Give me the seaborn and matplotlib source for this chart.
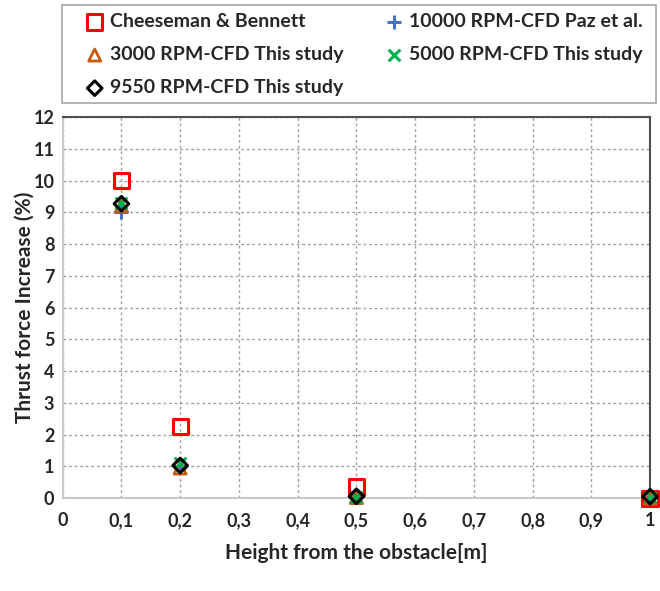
import matplotlib
matplotlib.use("Agg")
import matplotlib.pyplot as plt
from matplotlib.patches import Rectangle
import seaborn as sns

heights = [0.1, 0.2, 0.5, 1.0]
cheeseman = [10.0, 2.25, 0.35, 0.0]
paz_10000 = [9.0, 1.0, 0.05, 0.05]
rpm_3000 = [9.2, 0.95, 0.02, 0.0]
rpm_5000 = [9.3, 1.1, 0.05, 0.05]
rpm_9550 = [9.27, 1.03, 0.06, 0.05]

col1_labels = ["Cheeseman & Bennett", "3000 RPM-CFD This study", "9550 RPM-CFD This study"]
col2_labels = ["10000 RPM-CFD Paz et al.", "5000 RPM-CFD This study"]

x_ticks = [0, 0.1, 0.2, 0.3, 0.4, 0.5, 0.6, 0.7, 0.8, 0.9, 1.0]
x_ticklabels = ["0", "0,1", "0,2", "0,3", "0,4", "0,5", "0,6", "0,7", "0,8", "0,9", "1"]
y_ticks = list(range(0, 13))

sns.set_style("white")
plt.rcParams['font.family'] = ['Lato', 'DejaVu Sans']
plt.rcParams['font.weight'] = 'bold'

fig = plt.figure(figsize=(6.6, 5.91), dpi=100)
ax = fig.add_axes([0.095, 0.157, 0.890, 0.645])

styles = {
    "Cheeseman & Bennett": dict(data=cheeseman, marker='s', ec='#FF0000', s=120, lw=2.2, z=3),
    "10000 RPM-CFD Paz et al.": dict(data=paz_10000, marker='+', ec='#4472C4', s=90, lw=2.2, z=4),
    "3000 RPM-CFD This study": dict(data=rpm_3000, marker='^', ec='#C55A11', s=75, lw=2.0, z=5),
    "5000 RPM-CFD This study": dict(data=rpm_5000, marker='x', ec='#00B050', s=70, lw=2.2, z=6),
    "9550 RPM-CFD This study": dict(data=rpm_9550, marker='D', ec='#000000', s=55, lw=2.2, z=7),
}

for name, st in styles.items():
    if st['marker'] in ('+', 'x'):
        sns.scatterplot(x=heights, y=st['data'], ax=ax, marker=st['marker'], color=st['ec'],
                        s=st['s'], linewidth=st['lw'], zorder=st['z'], label=name, clip_on=False)
    else:
        sns.scatterplot(x=heights, y=st['data'], ax=ax, marker=st['marker'], facecolor='none',
                        edgecolor=st['ec'], s=st['s'], linewidth=st['lw'], zorder=st['z'],
                        label=name, clip_on=False)

h, l = ax.get_legend_handles_labels()
hmap = dict(zip(l, h))
if ax.get_legend():
    ax.get_legend().remove()

ax.set_xlim(0, 1.0)
ax.set_ylim(0, 12)
ax.set_xticks(x_ticks)
ax.set_xticklabels(x_ticklabels)
ax.set_yticks(y_ticks)
ax.tick_params(axis='both', labelsize=13, length=0)
ax.tick_params(axis='x', pad=10)
ax.tick_params(axis='y', pad=6)
for t in ax.get_xticklabels() + ax.get_yticklabels():
    t.set_fontweight('bold')

ax.grid(True, linestyle=(0, (2, 2)), color='#A0A0A0', linewidth=1.0)
ax.set_axisbelow(True)

for side in ['left', 'bottom']:
    ax.spines[side].set_color('#C8C8C8')
    ax.spines[side].set_linewidth(1.5)
for side in ['top', 'right']:
    ax.spines[side].set_color('#505050')
    ax.spines[side].set_linewidth(1.5)

ax.set_xlabel("Height from the obstacle[m]", fontsize=15, fontweight='bold', labelpad=10)
ax.set_ylabel("Thrust force Increase (%)", fontsize=15, fontweight='bold')
ax.yaxis.set_label_coords(-0.048, 0.5)

common = dict(frameon=False, loc='upper left', bbox_transform=fig.transFigure,
              prop={'size': 14, 'weight': 'bold'}, handletextpad=0.3, borderaxespad=0,
              borderpad=0, labelspacing=0.83, handlelength=1.0, markerscale=1.0)
leg1 = fig.legend([hmap[n] for n in col1_labels], col1_labels,
                  bbox_to_anchor=(85 / 660, 1 - 13 / 591), **common)
leg2 = fig.legend([hmap[n] for n in col2_labels], col2_labels,
                  bbox_to_anchor=(384 / 660, 1 - 13 / 591), **common)

fig.patches.append(Rectangle((62 / 660, 1 - 103 / 591), 594 / 660, 98 / 591,
                             transform=fig.transFigure, fill=False,
                             edgecolor='#A6A6A6', linewidth=1.2))

fig.savefig("out.png", dpi=100)
